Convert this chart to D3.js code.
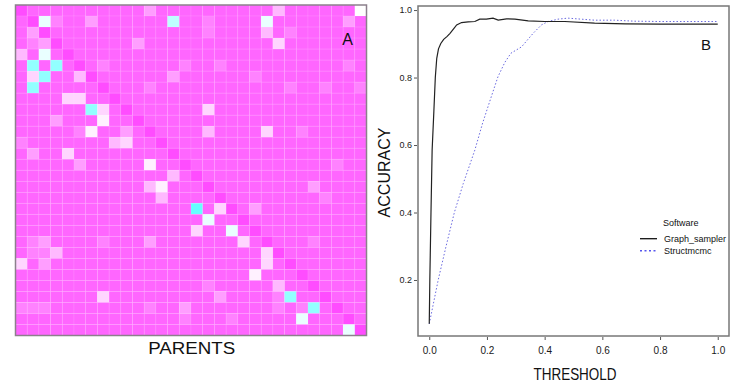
<!DOCTYPE html>
<html>
<head>
<meta charset="utf-8">
<script src="https://cdn.jsdelivr.net/npm/d3@7"></script>
<style>
	body { margin: 0; background: #fff; }
	svg { display: block; font-family: "Liberation Sans", Arial, sans-serif; }
</style>
</head>
<body>
<svg id="chart" width="747" height="385"></svg>
<script>

// panel A: parent matrix, one string per row
// "." = 0, "-" = diagonal (-1), digits = lighter levels toward white / cyan
var parentRows = [
	"-.........." + "2.........." + "3......",
	".-61..2...." + "..7..1....6" + "......2.",
	".2-........" + ".....1....3" + ".1......",
	".12-......2" + "..........." + "4.......",
	"3.6.-......" + "..........." + "........",
	".8.8.-.1..." + "...1..1...." + "......1.",
	".48..3-...." + "..2......1." + "........",
	".8.....-..." + "1.........." + ".1..1..1",
	"....44..-.." + "..........." + "........",
	"......84.-." + ".....4....." + "........",
	"...2...5..-" + "..........." + "........",
	".....15..2." + "-....3....4" + "..1.....",
	"1.......34." + ".-........." + "........",
	".2..4......" + "..-........" + "........",
	".....2....." + "5..-......." + ".....1..",
	"..........." + "..3.-......" + "........",
	"..........." + "35...-....." + "...2....",
	"..........." + ".3....-...." + "....1...",
	"..........." + "....9.4-.2." + "........",
	"..........." + ".....6..-.." + "........",
	"..........." + "....4..6.-." + "........",
	".12....1..." + "2.......4.-" + "...1....",
	".113......." + "..........4" + "-.......",
	"4.2........" + "..........4" + ".-......",
	"..........." + ".........5." + "..-.....",
	"..........." + ".....1....." + "3..-....",
	".......4..." + "......2...." + "18..-...",
	"111........" + "1..2......." + "1.18.-..",
	"..........." + "...1...1..." + "..6...-.",
	"..........." + "..........." + "......6-"
];
var parentLevels = [-1, 0, 5.5, 9];
var parentColors = ["#ff4cff", "#ff66ff", "#ffffff", "#66ffff"];

// panel B: accuracy against threshold
var gsThreshold = [0, 0.002, 0.006, 0.010, 0.016, 0.021, 0.026, 0.032, 0.040, 0.050, 0.062, 0.072, 0.085, 0.095, 0.112,
	0.135, 0.158, 0.175, 0.198, 0.221, 0.239, 0.268, 0.297, 0.343, 0.40, 0.47, 0.573, 0.68, 0.80, 1.0];
var gsAccuracy = [0.07, 0.2, 0.4, 0.585, 0.70, 0.80, 0.857, 0.885, 0.901, 0.913, 0.922, 0.931, 0.945, 0.956, 0.963,
	0.965, 0.966, 0.973, 0.973, 0.976, 0.970, 0.974, 0.973, 0.968, 0.966, 0.966, 0.961, 0.959, 0.958, 0.958];

var smThreshold = [0, 0.017, 0.031, 0.058, 0.087, 0.118, 0.158, 0.185, 0.213, 0.238, 0.262, 0.283,
	0.32, 0.36, 0.389, 0.412, 0.446, 0.481, 0.527, 0.573, 0.642, 0.711, 0.8, 1.0];
var smAccuracy = [0.07, 0.141, 0.2, 0.299, 0.4, 0.486, 0.585, 0.665, 0.738, 0.802, 0.845, 0.872,
	0.891, 0.931, 0.956, 0.966, 0.973, 0.976, 0.973, 0.970, 0.970, 0.967, 0.966, 0.966];

var xTicks = [0, 0.2, 0.4, 0.6, 0.8, 1.0];
var yTicks = [0.2, 0.4, 0.6, 0.8, 1.0];
var seriesNames = ["Graph_sampler", "Structmcmc"];

var svg = d3.select("#chart");

// ---------- panel A ----------
function drawParents()
{
	var n = parentRows.length;
	var cells = [];
	parentRows.forEach(function(row, r) {
		for (var c = 0; c < row.length; c++)
		{
			var ch = row.charAt(c);
			var v = ch == "." ? 0 : (ch == "-" ? -1 : +ch);
			cells.push({ r: r, c: c, v: v });
		}
	});

	var col = d3.scaleBand().domain(d3.range(n)).range([15.5, 366.5]);
	var row = d3.scaleBand().domain(d3.range(n)).range([5, 335.5]);
	var color = d3.scaleLinear().domain(parentLevels).range(parentColors);

	var g = svg.append("g");
	g.selectAll("rect.cell")
		.data(cells)
		.enter()
		.append("rect")
		.attr("class", "cell")
		.attr("x", function(d) { return col(d.c) })
		.attr("y", function(d) { return row(d.r) })
		.attr("width", col.bandwidth())
		.attr("height", row.bandwidth())
		.attr("fill", function(d) { return color(d.v) })
		.attr("stroke", "rgba(255,255,255,0.11)")
		.attr("stroke-width", 0.8);

	g.append("rect")
		.attr("x", 15.5).attr("y", 5)
		.attr("width", 351).attr("height", 330.5)
		.attr("fill", "none")
		.attr("stroke", "#8c808c")
		.attr("stroke-width", 1.5);

	svg.append("text")
		.attr("x", 347.5).attr("y", 45)
		.attr("text-anchor", "middle")
		.attr("font-size", 16)
		.attr("fill", "#111")
		.text("A");

	svg.append("text")
		.attr("x", 191.7).attr("y", 354)
		.attr("text-anchor", "middle")
		.attr("font-size", 16)
		.attr("textLength", 87)
		.attr("lengthAdjust", "spacingAndGlyphs")
		.attr("fill", "#111")
		.text("PARENTS");
}

// ---------- panel B ----------
function drawAccuracy()
{
	var x = d3.scaleLinear().domain([-0.039, 1.039]).range([418, 729]);
	var y = d3.scaleLinear().domain([0.034, 1.012]).range([336, 6]);

	var xAxis = svg.append("g")
		.attr("transform", "translate(0,337)")
		.call(d3.axisBottom(x).tickValues(xTicks).tickFormat(d3.format(".1f")).tickSize(3).tickPadding(7));
	var yAxis = svg.append("g")
		.attr("transform", "translate(417,0)")
		.call(d3.axisLeft(y).tickValues(yTicks).tickFormat(d3.format(".1f")).tickSize(3).tickPadding(2));

	[xAxis, yAxis].forEach(function(a) {
		a.select(".domain").remove();
		a.selectAll("line").attr("stroke", "#555");
		a.selectAll("text").attr("fill", "#1a1a1a").attr("font-family", null);
	});
	xAxis.attr("font-size", 10);
	yAxis.attr("font-size", 9);

	var line = d3.line()
		.x(function(d) { return x(d[0]) })
		.y(function(d) { return y(d[1]) });

	var gs = d3.zip(gsThreshold, gsAccuracy);
	var sm = d3.zip(smThreshold, smAccuracy);

	svg.append("path")
		.datum(sm)
		.attr("d", line)
		.attr("fill", "none")
		.attr("stroke", "#6a6ae0")
		.attr("stroke-width", 1)
		.attr("stroke-dasharray", "1.5,2");

	svg.append("path")
		.datum(gs)
		.attr("d", line)
		.attr("fill", "none")
		.attr("stroke", "#222")
		.attr("stroke-width", 1.2);

	svg.append("rect")
		.attr("x", 418).attr("y", 6)
		.attr("width", 311).attr("height", 330)
		.attr("fill", "none")
		.attr("stroke", "#777")
		.attr("stroke-width", 1.5);

	svg.append("text")
		.attr("x", 706).attr("y", 50)
		.attr("text-anchor", "middle")
		.attr("font-size", 15)
		.attr("fill", "#111")
		.text("B");

	svg.append("text")
		.attr("transform", "translate(390,172.5) rotate(-90)")
		.attr("text-anchor", "middle")
		.attr("font-size", 16)
		.attr("fill", "#111")
		.text("ACCURACY");

	svg.append("text")
		.attr("x", 575).attr("y", 380)
		.attr("text-anchor", "middle")
		.attr("font-size", 17)
		.attr("textLength", 83)
		.attr("lengthAdjust", "spacingAndGlyphs")
		.attr("fill", "#111")
		.text("THRESHOLD");

	// legend
	var lg = svg.append("g").attr("font-size", 9).attr("fill", "#111");
	lg.append("text").attr("x", 663).attr("y", 226).text("Software");

	var keys = lg.selectAll("g.key")
		.data(seriesNames)
		.enter()
		.append("g")
		.attr("class", "key")
		.attr("transform", function(d, i) { return "translate(0," + (238.7 + i * 12) + ")" });

	keys.append("line")
		.attr("x1", 640).attr("x2", 657)
		.attr("stroke", function(d, i) { return i == 0 ? "#111" : "#5555ee" })
		.attr("stroke-width", function(d, i) { return i == 0 ? 1.3 : 1.5 })
		.attr("stroke-dasharray", function(d, i) { return i == 0 ? null : "2,2.5" });

	keys.append("text")
		.attr("x", 664).attr("y", 3.5)
		.text(function(d) { return d });
}

drawParents();
drawAccuracy();

</script>
</body>
</html>
